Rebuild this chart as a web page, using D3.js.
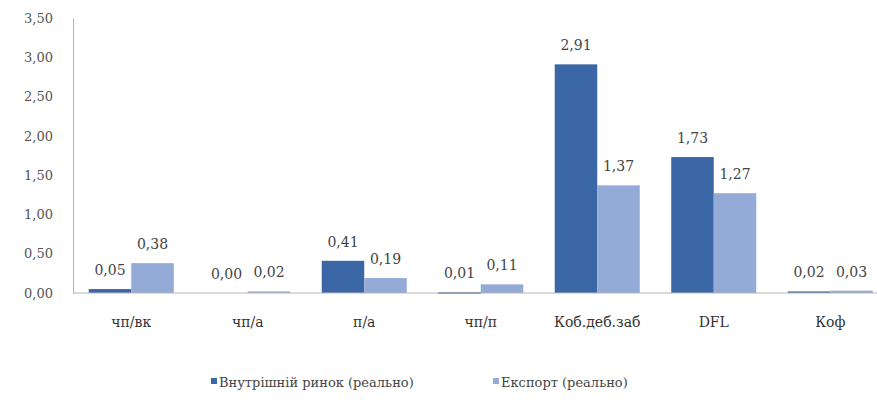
<!DOCTYPE html>
<html>
<head>
<meta charset="utf-8">
<script src="https://cdn.jsdelivr.net/npm/d3@7"></script>
<style>
  body { margin: 0; background: #fff; }
  text { font-family: "DejaVu Serif", "Liberation Serif", serif; }
  .tick-label { font-size: 13px; fill: #555; }
  .cat-label { font-size: 14px; fill: #333; }
  .value-label { font-size: 14px; fill: #444; }
  .legend-label { font-size: 13px; fill: #444; }
</style>
</head>
<body>
<svg id="chart" width="877" height="404"></svg>
<script>
// chart values
const categories = ["чп/вк", "чп/а", "п/а", "чп/п", "Коб.деб.заб", "DFL", "Коф"];
const seriesNames = ["Внутрішній ринок (реально)", "Експорт (реально)"];
const domestic = [0.05, 0.00, 0.41, 0.01, 2.91, 1.73, 0.02];
const exportVals = [0.38, 0.02, 0.19, 0.11, 1.37, 1.27, 0.03];
const yTicks = [0, 0.5, 1, 1.5, 2, 2.5, 3, 3.5];

const colors = ["#3b67a7", "#94aad7"];

const svg = d3.select("#chart");
const left = 73, zeroY = 293, topY = 18;
const step = 116.5;

const x = d3.scaleBand()
  .domain(categories)
  .range([left, left + step * categories.length])
  .paddingInner(0.27)
  .paddingOuter(0.135);

const xs = d3.scaleBand()
  .domain([0, 1])
  .range([0, x.bandwidth()]);

const y = d3.scaleLinear()
  .domain([0, 3.5])
  .range([zeroY, topY]);

const fmt = v => d3.format(".2f")(v).replace(".", ",");

// y axis
const yAxis = svg.append("g")
  .attr("transform", "translate(" + left + ",0)")
  .call(d3.axisLeft(y).tickValues(yTicks).tickSize(0).tickPadding(20).tickFormat(fmt));
yAxis.select(".domain").attr("stroke", "#b5b5b5");
yAxis.selectAll("text").attr("class", "tick-label").attr("font-family", null).attr("font-size", null).attr("fill", null);

// bars
const series = [domestic, exportVals];
series.forEach(function (vals, s) {
  const g = svg.append("g");
  g.selectAll("rect")
    .data(vals)
    .enter()
    .append("rect")
    .attr("x", (d, i) => x(categories[i]) + xs(s))
    .attr("width", xs.bandwidth())
    .attr("y", d => y(d))
    .attr("height", d => Math.max(zeroY - y(d), d > 0 ? 1.5 : 0))
    .attr("fill", colors[s]);
  g.selectAll("text")
    .data(vals)
    .enter()
    .append("text")
    .attr("class", "value-label")
    .attr("x", (d, i) => x(categories[i]) + xs(s) + xs.bandwidth() / 2)
    .attr("y", d => y(d) - 14)
    .attr("text-anchor", "middle")
    .text(fmt);
});

// x axis
const xAxis = svg.append("g")
  .attr("transform", "translate(0," + zeroY + ")")
  .call(d3.axisBottom(x).tickSize(0).tickPadding(24));
xAxis.select(".domain").attr("stroke", "#b5b5b5").attr("d", "M" + left + ",0H877");
xAxis.selectAll("text").attr("class", "cat-label").attr("font-family", null).attr("font-size", null).attr("fill", null);

// legend
const legendX = [211, 493];
const legend = svg.append("g");
seriesNames.forEach(function (name, s) {
  legend.append("rect")
    .attr("x", legendX[s])
    .attr("y", 378)
    .attr("width", 6)
    .attr("height", 6)
    .attr("fill", colors[s]);
  legend.append("text")
    .attr("class", "legend-label")
    .attr("x", legendX[s] + 8)
    .attr("y", 387)
    .text(name);
});
</script>
</body>
</html>
